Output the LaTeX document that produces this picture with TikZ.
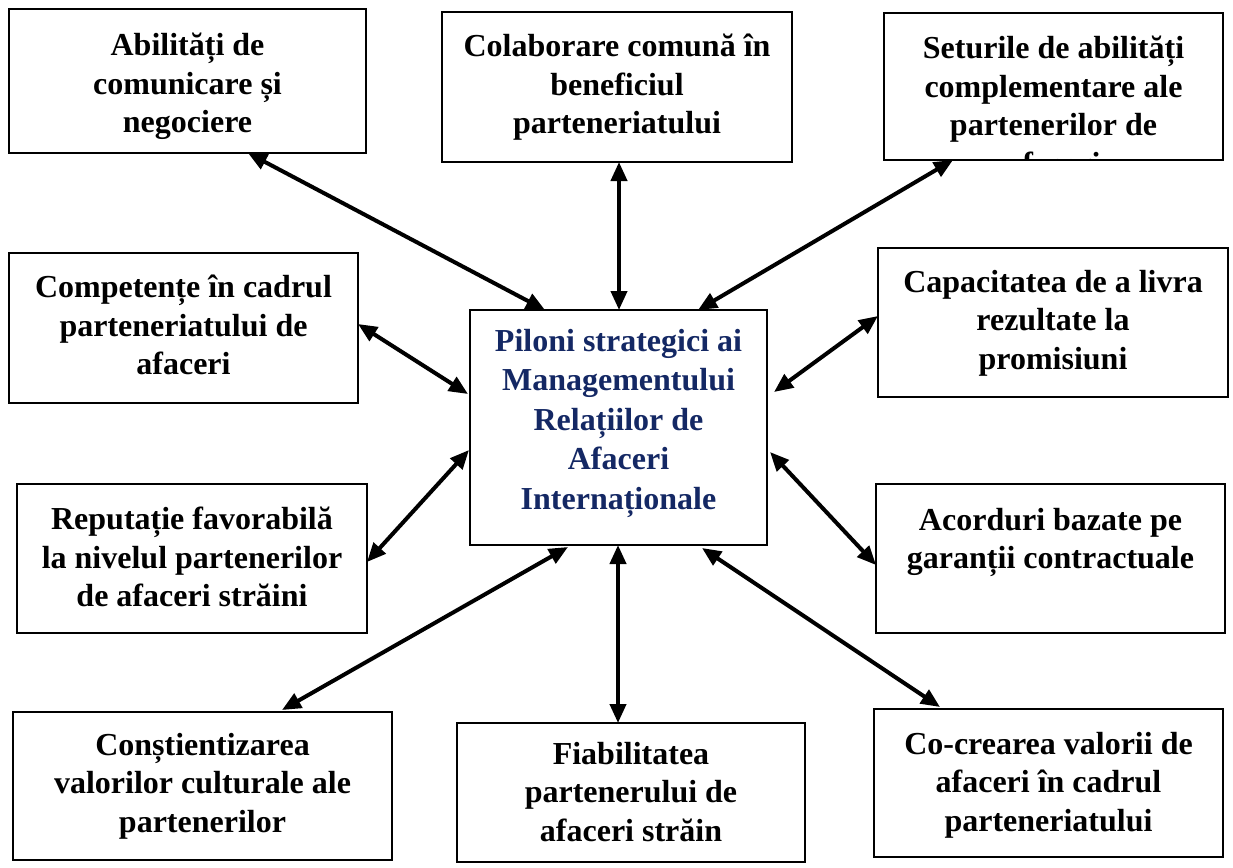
\documentclass[tikz,border=0pt]{standalone}
\usepackage{fontspec}
\setmainfont{Liberation Serif}
\usetikzlibrary{arrows.meta,calc}
\definecolor{navy}{RGB}{20,40,100}
\tikzset{
  boxst/.style={draw=black, line width=1.8pt, fill=none, inner sep=0pt, outer sep=0pt, anchor=north west},
  txt/.style={font=\bfseries\fontsize{32}{38.5}\selectfont, align=center, inner sep=0pt, anchor=north},
  ctxt/.style={font=\bfseries\fontsize{32}{39.5}\selectfont, align=center, inner sep=0pt, anchor=north, text=navy},
  arr/.style={line width=4pt, {Triangle[length=19pt,width=16pt]}-{Triangle[length=19pt,width=16pt]}}
}
\begin{document}
\begin{tikzpicture}[x=1pt,y=-1pt]
\useasboundingbox (0,0) rectangle (1233,867);
\fill[white] (0,0) rectangle (1233,867);

% boxes
\node[boxst, minimum width=357, minimum height=144] (b1) at (9,9) {};
\node[boxst, minimum width=350, minimum height=150] (b2) at (442,12) {};
\node[boxst, minimum width=339, minimum height=147] (b3) at (884,13) {};
\node[boxst, minimum width=349, minimum height=150] (b4) at (9,253) {};
\node[boxst, minimum width=350, minimum height=149] (b6) at (878,248) {};
\node[boxst, minimum width=297, minimum height=235] (c) at (470,310) {};
\node[boxst, minimum width=350, minimum height=149] (b7) at (17,484) {};
\node[boxst, minimum width=349, minimum height=149] (b8) at (876,484) {};
\node[boxst, minimum width=379, minimum height=148] (b9) at (13,712) {};
\node[boxst, minimum width=348, minimum height=139] (b10) at (457,723) {};
\node[boxst, minimum width=349, minimum height=148] (b11) at (874,709) {};

% texts
\node[txt] (t1) at (187.5,33) {Abilități de\\comunicare și\\negociere};
\node[txt] (t2) at (617,34) {Colaborare comună în\\beneficiul\\parteneriatului};
\begin{scope}
  \clip (b3.north west) rectangle ($(b3.south east)+(0,-1)$);
  \node[txt] (t3) at (1053.5,36) {Seturile de abilități\\complementare ale\\partenerilor de\\afaceri};
\end{scope}
\node[txt] (t4) at (183.5,275) {Competențe în cadrul\\parteneriatului de\\afaceri};
\node[txt] (t6) at (1053,270) {Capacitatea de a livra\\rezultate la\\promisiuni};
\node[ctxt] (tc) at (618.5,329) {Piloni strategici ai\\Managementului\\Relațiilor de\\Afaceri\\Internaționale};
\node[txt] (t7) at (192,507) {Reputație favorabilă\\la nivelul partenerilor\\de afaceri străini};
\node[txt] (t8) at (1050.5,508) {Acorduri bazate pe\\garanții contractuale};
\node[txt] (t9) at (202.5,733) {Conștientizarea\\valorilor culturale ale\\partenerilor};
\node[txt] (t10) at (631,742) {Fiabilitatea\\partenerului de\\afaceri străin};
\node[txt] (t11) at (1048.5,732) {Co-crearea valorii de\\afaceri în cadrul\\parteneriatului};

% connectors
\draw[arr] ($(b1.south west)+(239,0)$) -- ($(c.north west)+(75,0)$);
\draw[arr] ($(b2.south west)+(177,0)$) -- ($(c.north west)+(149,0)$);
\draw[arr] ($(b3.south west)+(69,0)$) -- ($(c.north west)+(228,0)$);
\draw[arr] ($(b4.north east)+(0,71)$) -- ($(c.north west)+(-2,84)$);
\draw[arr] ($(b6.north west)+(0,68)$) -- ($(c.north east)+(7,82)$);
\draw[arr] ($(b7.north east)+(0,78)$) -- ($(c.north west)+(-1,140)$);
\draw[arr] ($(c.north east)+(3,142)$) -- ($(b8.north west)+(0,81)$);
\draw[arr] ($(c.south west)+(98,2)$) -- ($(b9.north west)+(269,-2)$);
\draw[arr] ($(c.south west)+(148,0)$) -- ($(b10.north west)+(161,0)$);
\draw[arr] ($(c.south west)+(232,3)$) -- ($(b11.north west)+(66,-2)$);
\end{tikzpicture}
\end{document}
